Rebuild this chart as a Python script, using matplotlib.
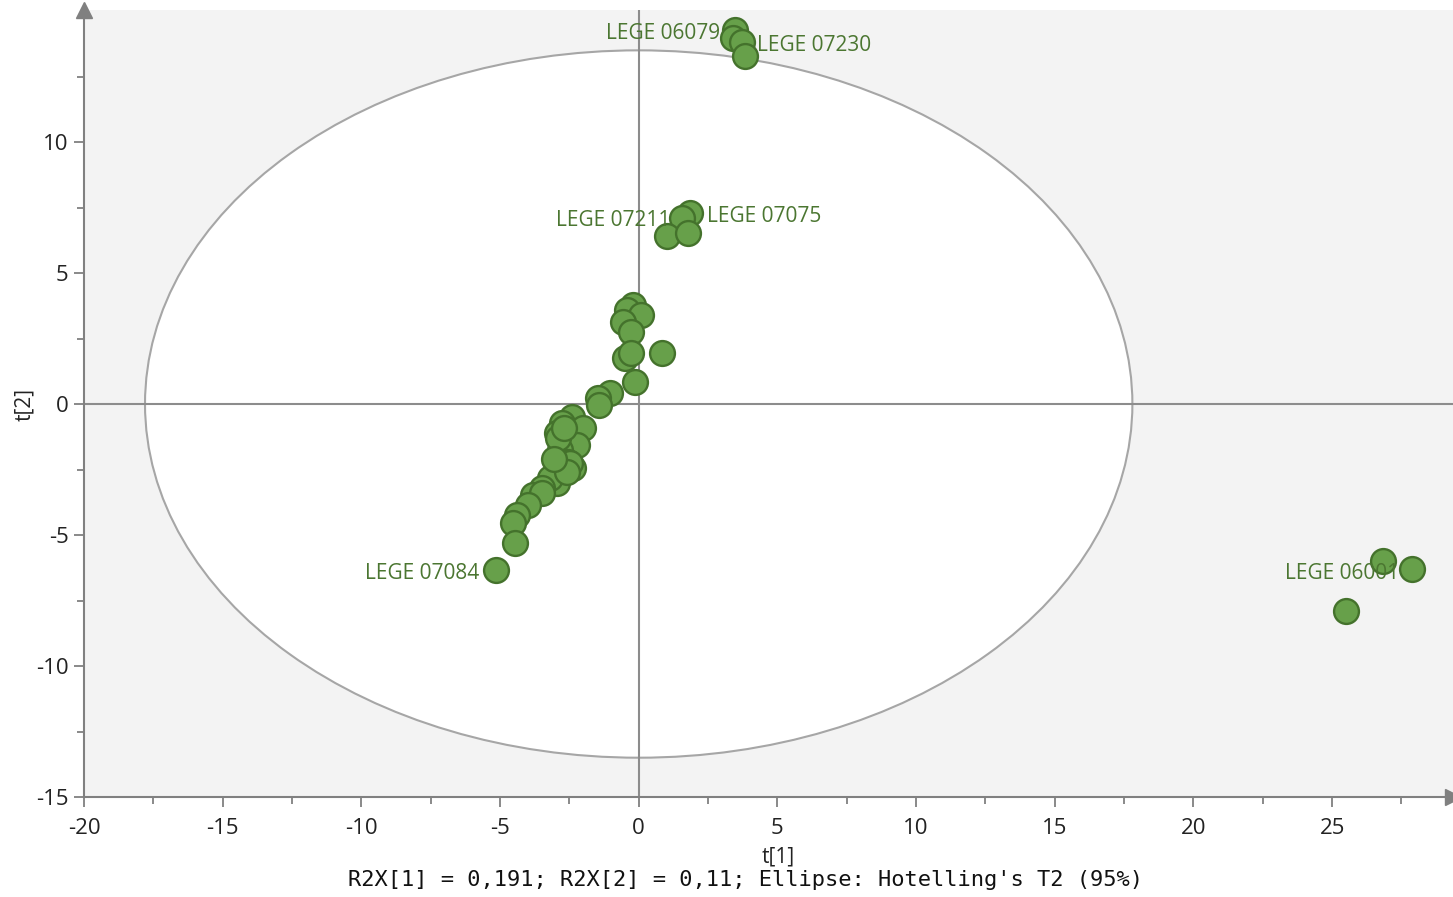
import matplotlib
matplotlib.use("Agg")
import matplotlib.pyplot as plt
from matplotlib.patches import Ellipse

plt.rcParams["axes.unicode_minus"] = False

# Scores (t[1], t[2])
t1 = [3.47, 3.40, 3.73, 3.83,
      1.85, 1.56, 1.02, 1.78,
      26.84, 27.88, 25.51,
      -5.14,
      -0.20, -0.42, 0.08, -0.57, -0.28, -0.49, -0.28, 0.84, -0.13,
      -1.04, -1.47, -1.43,
      -2.40, -2.76, -2.01, -2.95, -2.73, -2.22, -2.84, -2.55, -2.37,
      -2.48, -2.95, -3.20, -3.49, -3.81, -3.49, -3.99, -4.39, -4.53, -4.46,
      -2.90, -2.60, -2.70, -3.05]
t2 = [14.27, 13.97, 13.82, 13.28,
      7.29, 7.10, 6.41, 6.53,
      -5.99, -6.30, -7.90,
      -6.34,
      3.78, 3.59, 3.40, 3.13, 2.75, 1.76, 1.95, 1.95, 0.84,
      0.42, 0.23, -0.05,
      -0.50, -0.73, -0.92, -1.11, -1.56, -1.56, -1.76, -2.21, -2.44,
      -2.25, -3.02, -2.82, -3.21, -3.47, -3.40, -3.85, -4.24, -4.54, -5.31,
      -1.30, -2.60, -0.90, -2.10]

labels = ["LEGE 06079", "LEGE 07230", "LEGE 07211", "LEGE 07075", "LEGE 07084", "LEGE 06001"]
label_x = [2.95, 4.25, 1.15, 2.45, -5.75, 23.3]
label_y = [14.15, 13.7, 7.0, 7.15, -6.45, -6.45]
label_ha = ["right", "left", "right", "left", "right", "left"]

ell_a, ell_b = 17.8, 13.5
xlim = (-20, 29.36)
ylim = (-15, 15.04)
xticks = [-20, -15, -10, -5, 0, 5, 10, 15, 20, 25]
yticks = [-15, -10, -5, 0, 5, 10]

fig = plt.figure(figsize=(14.53, 8.97), dpi=100)
ax = fig.add_axes([84/1453, 1 - 797/897, 1 - 84/1453, (797 - 10)/897])
ax.set_facecolor("#f3f3f3")
ax.set_xlim(*xlim)
ax.set_ylim(*ylim)

ax.add_patch(Ellipse((0, 0), 2*ell_a, 2*ell_b, facecolor="white",
                     edgecolor="#a6a6a6", linewidth=1.5, zorder=1))
ax.axhline(0, color="#8c8c8c", linewidth=1.5, zorder=2)
ax.axvline(0, color="#8c8c8c", linewidth=1.5, zorder=2)

ax.scatter(t1, t2, s=320, facecolor="#67a04a", edgecolor="#44722c",
           linewidth=1.7, zorder=3)

for lab, x, y, ha in zip(labels, label_x, label_y, label_ha):
    ax.text(x, y, lab, ha=ha, va="center", color="#4b7631",
            fontsize=15, family="Open Sans", zorder=4)

for s in ["top", "right"]:
    ax.spines[s].set_visible(False)
for s in ["left", "bottom"]:
    ax.spines[s].set_color("#808080")
    ax.spines[s].set_linewidth(1.5)

ax.set_xticks(xticks)
ax.set_yticks(yticks)
ax.set_xticks([v + 2.5 for v in xticks], minor=True)
ax.set_yticks([v + 2.5 for v in yticks], minor=True)
ax.tick_params(which="major", length=7, width=1.3, color="#808080",
               labelsize=16, labelcolor="#222222")
ax.tick_params(axis="x", which="major", pad=8)
ax.tick_params(axis="y", which="major", pad=4)
ax.tick_params(which="minor", length=5, width=1.3, color="#808080")
for lbl in ax.get_xticklabels() + ax.get_yticklabels():
    lbl.set_family("Open Sans")

# axis arrows
ax.plot([0], [1], marker="^", markersize=12, color="#808080",
        transform=ax.transAxes, clip_on=False, zorder=5)
ax.plot([1], [0], marker=">", markersize=12, color="#808080",
        transform=ax.transAxes, clip_on=False, zorder=5)

fig.text(778/1453, 1 - 857/897, "t[1]", ha="center", va="center",
         fontsize=15, family="Open Sans", color="#222222")
fig.text(25/1453, 1 - 404/897, "t[2]", ha="center", va="center",
         rotation=90, fontsize=15, family="Open Sans", color="#222222")
fig.text(746/1453, 1 - 880/897,
         "R2X[1] = 0,191; R2X[2] = 0,11; Ellipse: Hotelling's T2 (95%)",
         ha="center", va="center", fontsize=15.8, family="DejaVu Sans Mono",
         color="#111111")

fig.savefig("out.png", dpi=100)
